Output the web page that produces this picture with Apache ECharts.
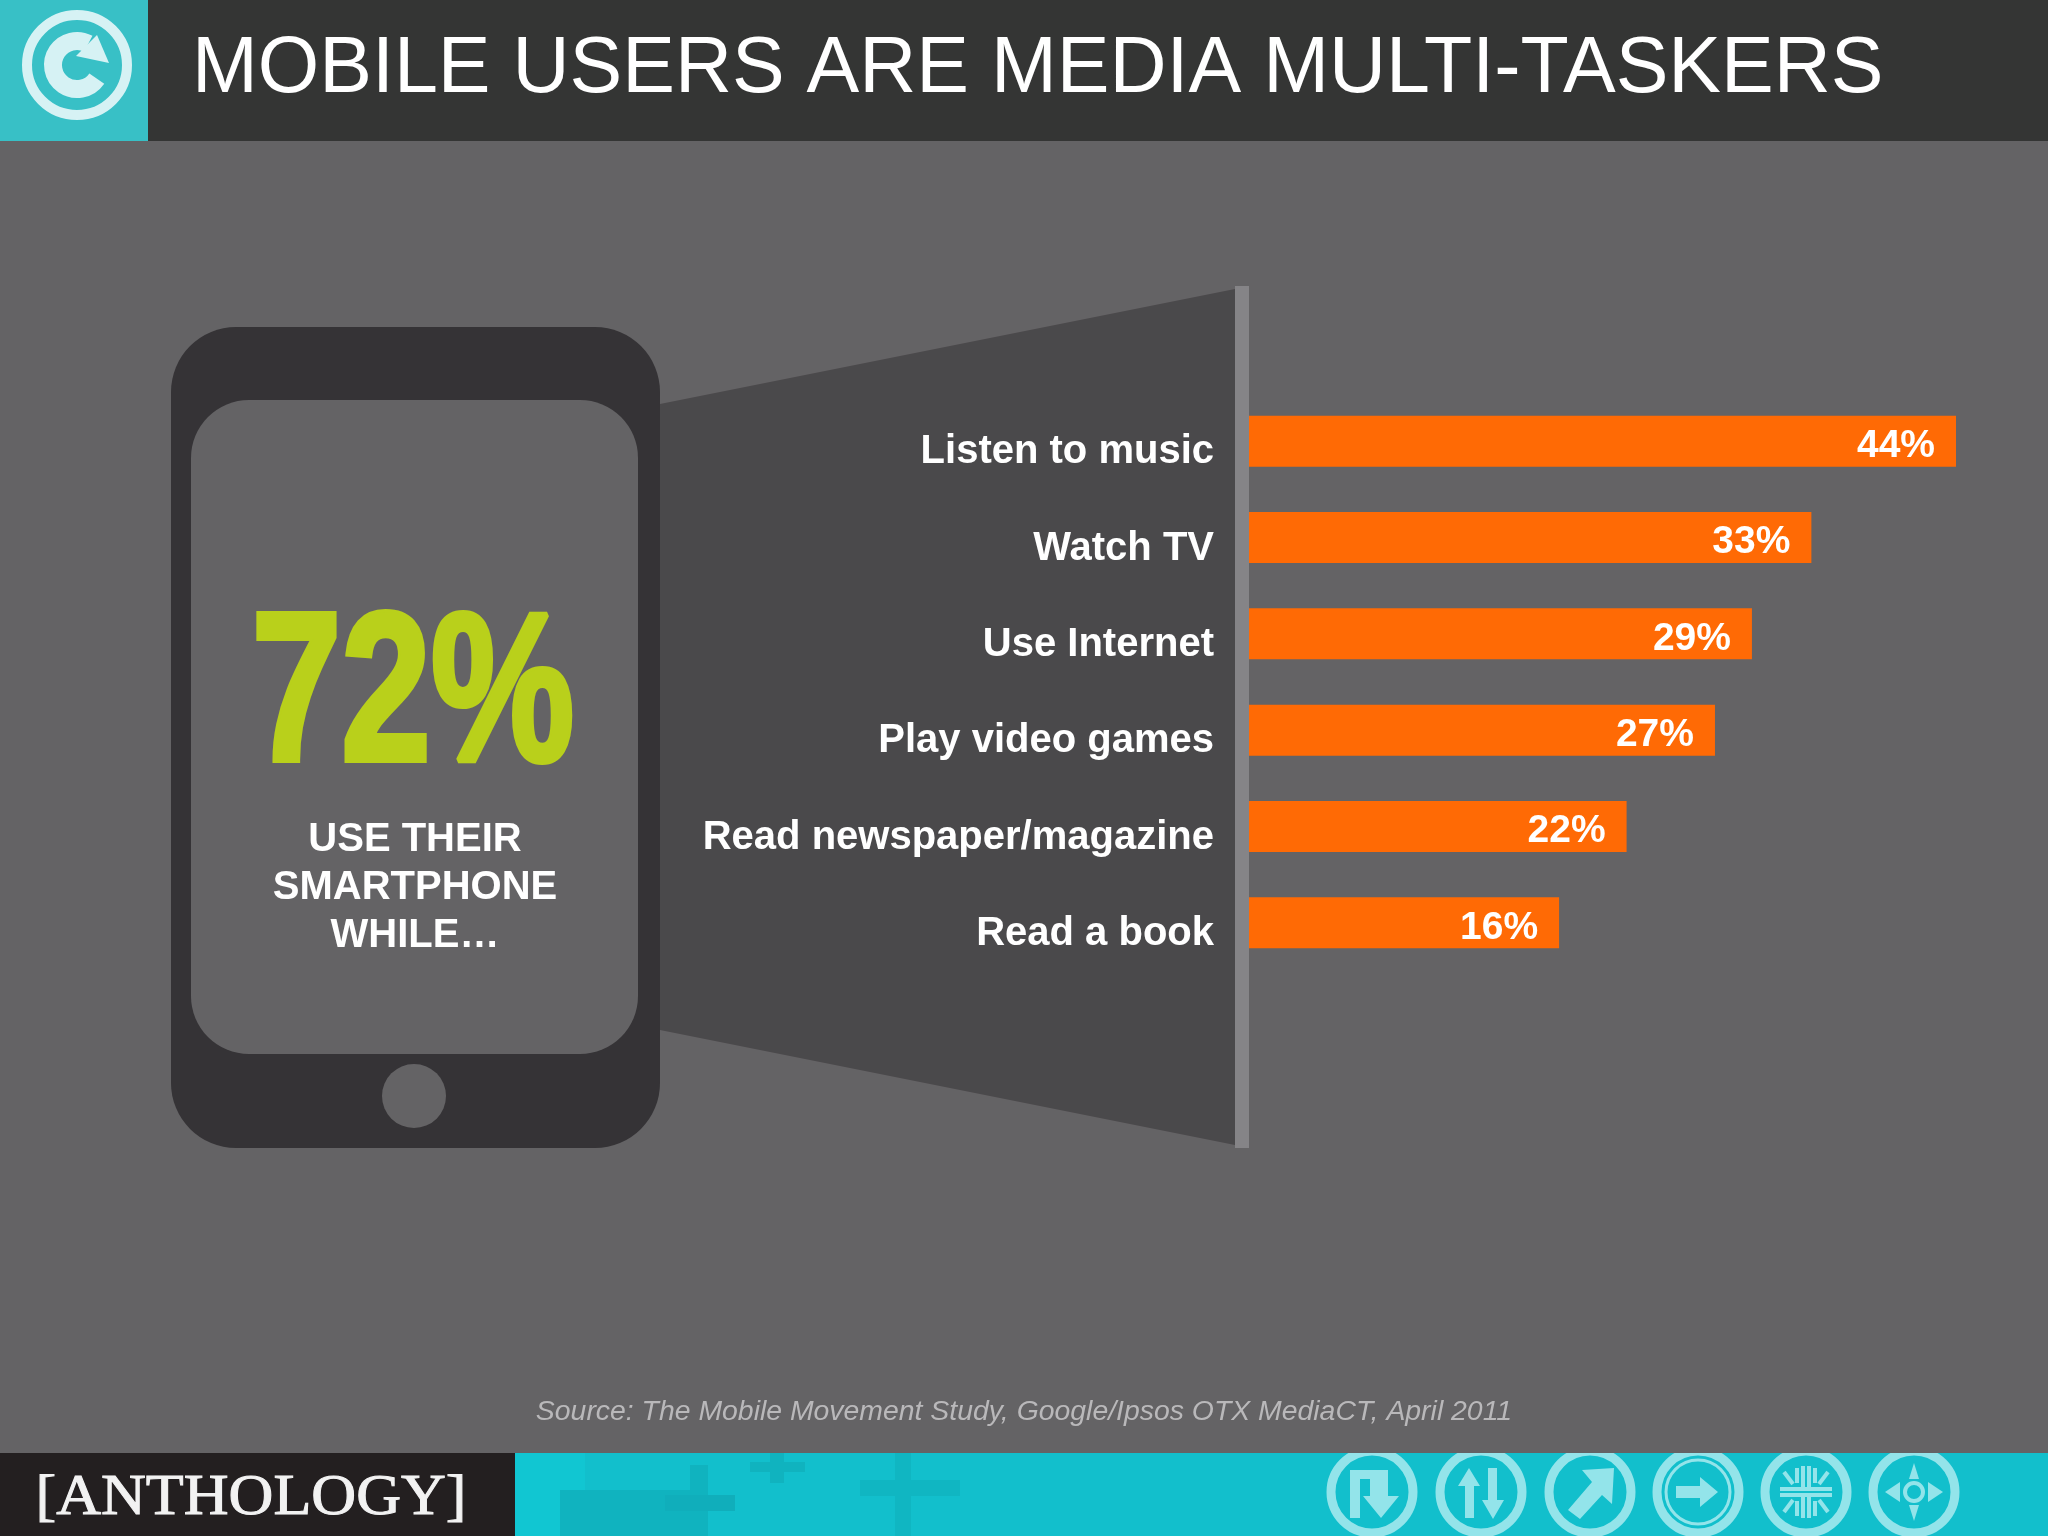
<!DOCTYPE html>
<html>
<head>
<meta charset="utf-8">
<title>Mobile users are media multi-taskers</title>
<script src="https://cdn.jsdelivr.net/npm/echarts@6/dist/echarts.min.js"></script>
<style>
html, body { margin: 0; padding: 0; background: #646365; }
#main { width: 2048px; height: 1536px; }
</style>
</head>
<body>
<div id="main"></div>
<script>
var categories = ['Listen to music', 'Watch TV', 'Use Internet', 'Play video games', 'Read newspaper/magazine', 'Read a book'];
// printed percentages
var printedValues = [44, 33, 29, 27, 22, 16];
// the bars in the picture are not drawn to the printed numbers, these are read off the bar lengths
var barLengths = [44, 35, 31.3, 29, 23.5, 19.3];
var titleText = 'MOBILE USERS ARE MEDIA MULTI-TASKERS';
var headlineValue = '72%';
var headlineLines = ['USE THEIR', 'SMARTPHONE', 'WHILE\u2026'];
var sourceText = 'Source: The Mobile Movement Study, Google/Ipsos OTX MediaCT, April 2011';
var brandText = '[ANTHOLOGY]';

var FONT = '"Liberation Sans", Arial, sans-serif';
var ICON = '#93e4ea';
var LOGO = '#d6f2f4';

function rect(x, y, w, h, fill, r) {
    return { type: 'rect', shape: { x: x, y: y, width: w, height: h, r: r || 0 }, style: { fill: fill } };
}
function poly(points, fill) {
    return { type: 'polygon', shape: { points: points }, style: { fill: fill } };
}
function text(t, x, y, font, fill, align) {
    return { type: 'text', x: x, y: y, style: { text: t, font: font, fill: fill, align: align || 'center', verticalAlign: 'middle' } };
}
// shift a list of points to an icon centre
function at(cx, cy, pts) {
    return pts.map(function (p) { return [cx + p[0], cy + p[1]]; });
}
function ring(cx, cy, r, w, color) {
    return { type: 'circle', shape: { cx: cx, cy: cy, r: r }, style: { fill: 'none', stroke: color, lineWidth: w } };
}
function ray(cx, cy, x1, y1, x2, y2, w) {
    return { type: 'line', shape: { x1: cx + x1, y1: cy + y1, x2: cx + x2, y2: cy + y2 }, style: { stroke: ICON, lineWidth: w } };
}

var graphics = [];

// header
graphics.push(rect(0, 0, 2048, 141, '#343534'));
graphics.push(rect(0, 0, 148, 141, '#38c0c6'));
graphics.push(ring(77, 65, 50, 10, LOGO));
graphics.push({ type: 'arc', shape: { cx: 77, cy: 65, r: 24, startAngle: 0.6, endAngle: 5.2, clockwise: true }, style: { fill: 'none', stroke: LOGO, lineWidth: 18 } });
graphics.push(poly([[97, 35], [109, 63], [76, 56]], LOGO));
graphics.push(text(titleText, 192, 70, '79px ' + FONT, '#ffffff', 'left'));

// phone and the funnel coming out of it
graphics.push(poly([[660, 404], [1235, 289], [1235, 1145], [660, 1030]], '#4a494b'));
graphics.push(rect(1235, 286, 14, 862, '#858487'));
graphics.push(rect(171, 327, 489, 821, '#353336', 65));
graphics.push(rect(191, 400, 447, 654, '#646365', 58));
graphics.push({ type: 'circle', shape: { cx: 414, cy: 1096, r: 32 }, style: { fill: '#646365' } });

// headline number, no condensed heavy font here so squeeze bold and thicken it
graphics.push({
    type: 'text', x: 413, y: 702, scaleX: 0.76,
    style: { text: headlineValue, font: 'bold 212px ' + FONT, fill: '#b9d01b', stroke: '#b9d01b', lineWidth: 6, align: 'center', verticalAlign: 'middle' }
});
graphics.push(text(headlineLines[0], 415, 840, 'bold 40px ' + FONT, '#ffffff'));
graphics.push(text(headlineLines[1], 415, 888, 'bold 40px ' + FONT, '#ffffff'));
graphics.push(text(headlineLines[2], 415, 936, 'bold 40px ' + FONT, '#ffffff'));

// footer band
graphics.push(rect(515, 1453, 1533, 83, '#12bfcc'));
graphics.push(rect(515, 1453, 70, 83, '#11c6d2'));
graphics.push(rect(560, 1490, 130, 46, '#10b3bf'));
graphics.push(rect(690, 1465, 18, 71, '#10b3bf'));
graphics.push(rect(665, 1495, 70, 16, '#10aebb'));
graphics.push(rect(770, 1453, 14, 30, '#10b3bf'));
graphics.push(rect(750, 1462, 55, 10, '#10b3bf'));
graphics.push(rect(895, 1453, 16, 83, '#10b6c2'));
graphics.push(rect(860, 1480, 100, 16, '#10b6c2'));
graphics.push(rect(0, 1453, 515, 83, '#231f20'));
graphics.push({
    type: 'text', x: 251, y: 1499, scaleX: 1.07,
    style: { text: brandText, font: '58px "Liberation Serif", "Times New Roman", serif', fill: '#f2f2f2', stroke: '#f2f2f2', lineWidth: 1, align: 'center', verticalAlign: 'middle' }
});

// footer icons
var iconX = [1372, 1481, 1590, 1698, 1806, 1914];
var iconY = 1492;
iconX.forEach(function (x) { graphics.push(ring(x, iconY, 41, 9, ICON)); });
graphics.push(poly(at(iconX[0], iconY, [[-22, 26], [-12, 26], [-12, -13], [-2, -13], [-2, 4], [-9, 4], [9, 26], [27, 4], [16, 4], [16, -22], [-22, -22]]), ICON));
graphics.push(poly(at(iconX[1], iconY, [[-16, 26], [-7, 26], [-7, -6], [-1, -6], [-12, -24], [-23, -6], [-16, -6]]), ICON));
graphics.push(poly(at(iconX[1], iconY, [[7, -24], [16, -24], [16, 8], [23, 8], [12, 27], [1, 8], [7, 8]]), ICON));
graphics.push(poly(at(iconX[2], iconY, [[-22, 18], [-10, 27], [12, 3], [22, 12], [24, -24], [-8, -22], [2, -10]]), ICON));
graphics.push(ring(iconX[3], iconY, 32, 3, ICON));
graphics.push(poly(at(iconX[3], iconY, [[-22, -6], [2, -6], [2, -15], [20, 0], [2, 15], [2, 6], [-22, 6]]), ICON));
[[-26, -3, 26, -3], [-26, 3, 26, 3], [-3, -26, -3, -3], [3, -26, 3, -3], [-3, 3, -3, 26], [3, 3, 3, 26],
    [-9, -24, -9, -9], [9, -24, 9, -9], [-9, 9, -9, 24], [9, 9, 9, 24],
    [-22, -20, -13, -8], [22, -20, 13, -8], [-22, 20, -13, 8], [22, 20, 13, 8]].forEach(function (l) {
    graphics.push(ray(iconX[4], iconY, l[0], l[1], l[2], l[3], 4));
});
graphics.push(ring(iconX[5], iconY, 9, 4, ICON));
graphics.push(poly(at(iconX[5], iconY, [[-29, 0], [-14, -10], [-14, 10]]), ICON));
graphics.push(poly(at(iconX[5], iconY, [[29, 0], [14, -10], [14, 10]]), ICON));
graphics.push(poly(at(iconX[5], iconY, [[0, -29], [-5, -13], [5, -13]]), ICON));
graphics.push(poly(at(iconX[5], iconY, [[0, 29], [-5, 13], [5, 13]]), ICON));
// rings are cut off by the top of the band
graphics.push(rect(1300, 1436, 748, 17, '#646365'));

graphics.push(text(sourceText, 1024, 1412, 'italic 28.4px ' + FONT, '#b9b8ba'));

var myChart = echarts.init(document.getElementById('main'));
var option = {
    backgroundColor: '#646365',
    animation: false,
    graphic: { elements: graphics },
    grid: { left: 1249, top: 393, width: 707, height: 578 },
    xAxis: { type: 'value', min: 0, max: 44, show: false },
    yAxis: {
        type: 'category',
        inverse: true,
        data: categories,
        axisLine: { show: false },
        axisTick: { show: false },
        axisLabel: {
            color: '#ffffff',
            fontFamily: FONT,
            fontWeight: 'bold',
            fontSize: 40,
            margin: 35,
            verticalAlign: 'top',
            padding: [-9, 0, 0, 0]
        }
    },
    series: [{
        type: 'bar',
        barWidth: 51,
        data: barLengths,
        itemStyle: { color: '#ff6a05' },
        label: {
            show: true,
            position: 'insideRight',
            distance: 21,
            offset: [0, 5],
            color: '#ffffff',
            fontFamily: FONT,
            fontWeight: 'bold',
            fontSize: 39,
            formatter: function (p) { return printedValues[p.dataIndex] + '%'; }
        }
    }]
};
myChart.setOption(option, true);
</script>
</body>
</html>
